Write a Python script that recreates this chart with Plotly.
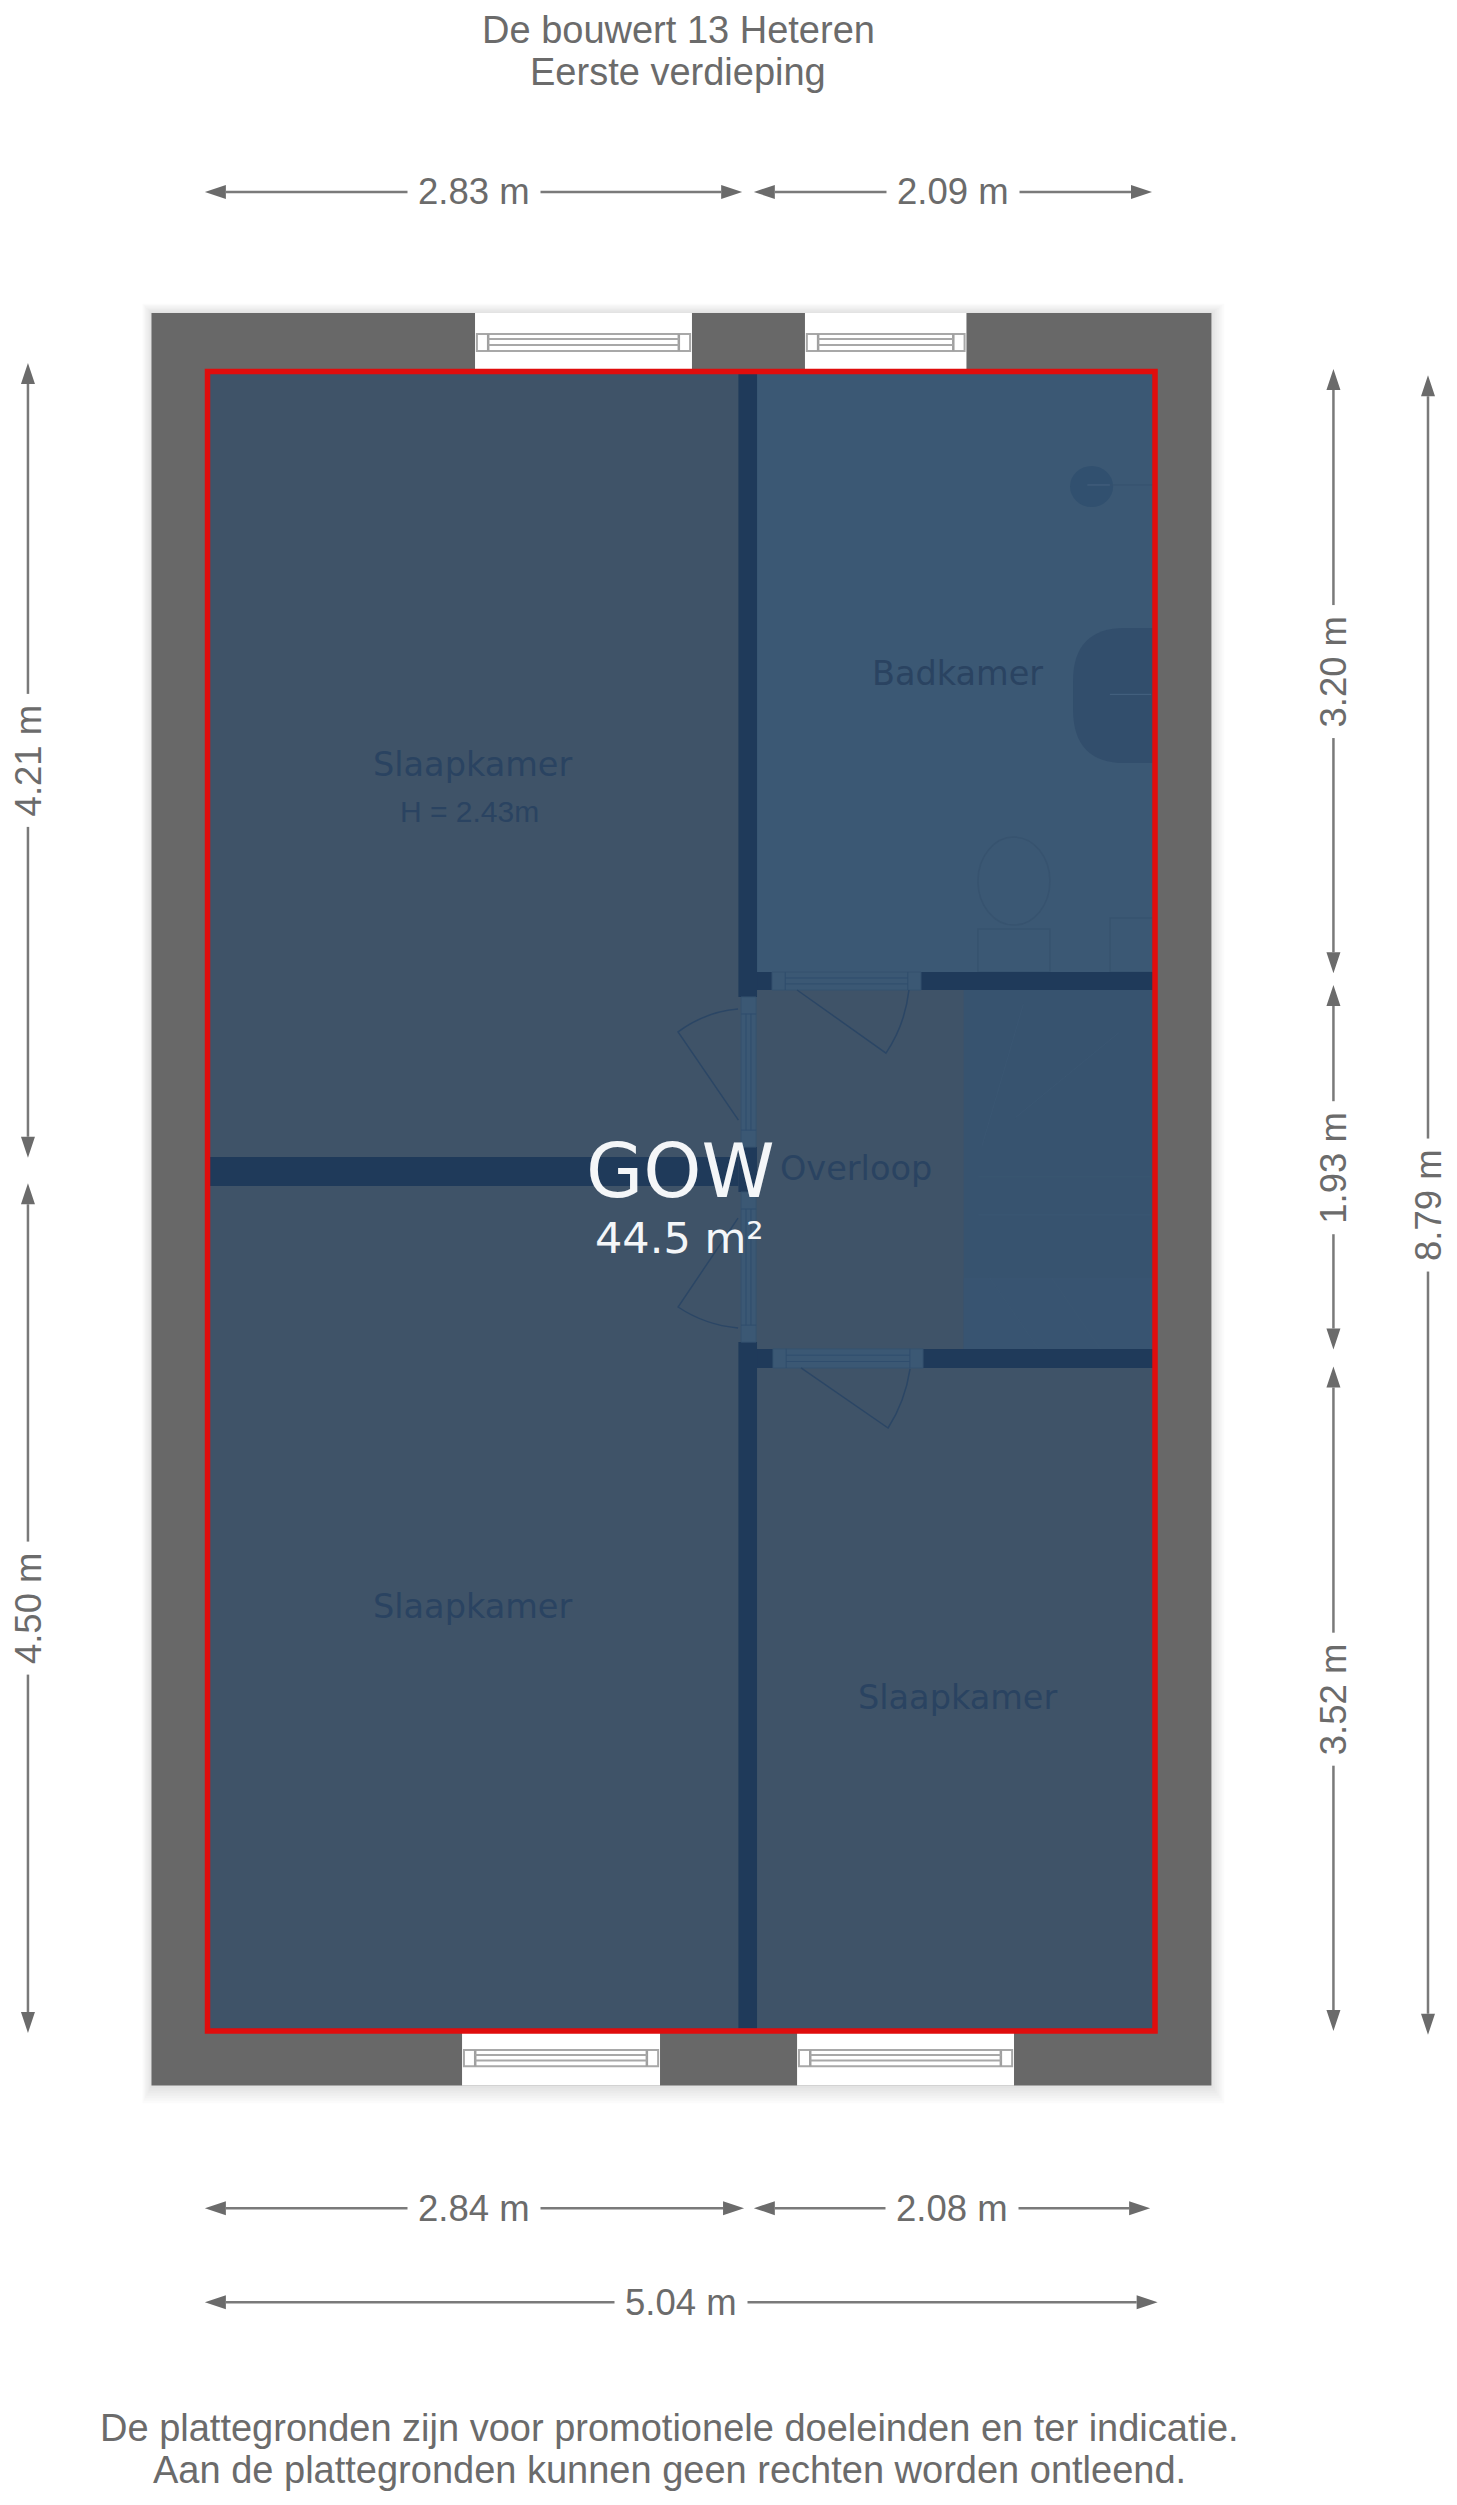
import plotly.graph_objects as go

# dimensions printed on the plan, in metres
top_dims = [2.83, 2.09]
bottom_dims = [2.84, 2.08]
total_width = [5.04]
left_dims = [4.21, 4.50]
right_dims = [3.20, 1.93, 3.52]
total_depth = [8.79]

title_lines = ["De bouwert 13 Heteren", "Eerste verdieping"]
footer_lines = ["De plattegronden zijn voor promotionele doeleinden en ter indicatie.",
                "Aan de plattegronden kunnen geen rechten worden ontleend."]
room_names = ["Slaapkamer", "Slaapkamer", "Slaapkamer", "Badkamer", "Overloop"]
room_height_label = "H = 2.43m"
area_name = "GOW"
area_value = "44.5 m²"

# where things sit on the page, plan origin = inside corner top left
room_x = [1.412, 1.412, 3.987, 3.987, 3.449]
room_y = [2.079, 6.543, 7.024, 1.597, 4.219]
top_starts = [0, 2.92]
bottom_starts = [0, 2.92]
left_starts = [-0.045, 4.30]
right_starts = [-0.013, 3.25, 5.27]

WIDTH, HEIGHT = 1457, 2505
SX, SY = 188.0, 188.8
OX, OY = 207.5, 371.5

GREY = "#6b6b6b"
ROOM = "#3f5368"
BATH = "#3b5874"
STAIR = "#37536f"
WALL = "#1f3a5a"
FIXTURE = "#324e6c"
DOOR = "#2b4665"
LABEL = "#2a4361"

fig = go.Figure()


def rect(x0, y0, x1, y1, fill, line=None, width=0, **kw):
    fig.add_shape(type="rect", x0=x0, y0=y0, x1=x1, y1=y1, fillcolor=fill,
                  line=dict(color=line or fill, width=width), **kw)


def seg(x0, y0, x1, y1, color, width=1.5):
    fig.add_shape(type="line", x0=x0, y0=y0, x1=x1, y1=y1, line=dict(color=color, width=width))


def path(d, line=DOOR, fill=None, width=1.5):
    fig.add_shape(type="path", path=d, fillcolor=fill, line=dict(color=line, width=width))


def text(x, y, s, size, color=GREY, family="Liberation Sans", **kw):
    fig.add_annotation(x=x, y=y, text=s, showarrow=False, xanchor="center", yanchor="middle",
                       font=dict(family=family, size=size, color=color), **kw)


# soft shadow round the block
for i in range(1, 8):
    p = 0.007 * i
    rect(-0.298 - p, -0.310 - p, 5.340 + p * 1.4, 9.079 + p * 1.9, "rgba(0,0,0,0.014)")

rect(-0.298, -0.310, 5.340, 9.079, "#686868")


def window_h(x0, x1, y_out0, y_out1, y0, y1):
    rect(x0, y_out0, x1, y_out1, "white")
    rect(x0 + 0.01, y0, x1 - 0.01, y1, "white", "#a8a8a8", 2)
    seg(x0 + 0.07, y0, x0 + 0.07, y1, "#a0a0a0", 2.5)
    seg(x1 - 0.07, y0, x1 - 0.07, y1, "#a0a0a0", 2.5)
    for f in (0.3, 0.65):
        seg(x0 + 0.07, y0 + (y1 - y0) * f, x1 - 0.07, y0 + (y1 - y0) * f, "#a8a8a8", 2)


window_h(1.423, 2.577, -0.310, 0, -0.199, -0.109)
window_h(3.178, 4.037, -0.310, 0, -0.199, -0.109)
window_h(1.354, 2.407, 8.79, 9.079, 8.891, 8.976)
window_h(3.136, 4.290, 8.79, 9.079, 8.891, 8.976)

# floors
rect(0, 0, 5.04, 8.79, ROOM)
rect(2.923, 0.013, 5.029, 3.181, BATH)
rect(4.022, 3.276, 5.029, 5.177, STAIR)
rect(4.022, 4.801, 5.029, 5.177, "#385471")

# faint stair treads
for d in ["M 4.16 4.80 L 4.42 5.177", "M 4.49 4.80 L 4.75 5.177", "M 4.10 4.266 L 5.02 4.266",
          "M 4.10 4.467 L 5.02 4.467", "M 4.12 4.10 L 4.34 3.35", "M 4.30 3.95 L 4.85 3.50"]:
    path(d, line="#3a5672", width=1)

# bathroom fixtures
fig.add_shape(type="circle", x0=4.588, y0=0.500, x1=4.817, y1=0.718, fillcolor="#31506f", line_width=0)
seg(4.80, 0.601, 5.029, 0.601, "#35526f", 1)
seg(4.68, 0.601, 4.80, 0.601, "#466381", 1)
path("M 5.029 1.359 L 4.88 1.359 Q 4.604 1.359 4.604 1.64 L 4.604 1.79 Q 4.604 2.074 4.88 2.074 L 5.029 2.074 Z",
     line="#324e6c", fill=FIXTURE, width=0)
seg(4.80, 1.71, 5.02, 1.71, "#466381", 1)
fig.add_shape(type="circle", x0=4.098, y0=2.466, x1=4.481, y1=2.932, line=dict(color="#37536f", width=1.5))
rect(4.098, 2.953, 4.481, 3.181, BATH, "#37536f", 1.5)
rect(4.801, 2.895, 5.029, 3.181, BATH, "#37536f", 1.5)

# inner walls
rect(2.824, 0.013, 2.923, 3.313, WALL)
rect(2.824, 4.108, 2.923, 4.346, WALL)
rect(2.824, 5.141, 2.923, 8.777, WALL)
rect(2.923, 3.181, 5.029, 3.276, WALL)
rect(2.923, 5.177, 5.029, 5.278, WALL)
rect(0.013, 4.161, 2.824, 4.314, WALL)


def door_h(x0, x1, y0, y1):
    rect(x0, y0, x1, y1, BATH, "#35526f", 1)
    seg(x0 + 0.07, y0, x0 + 0.07, y1, "#2f4d6d", 1)
    seg(x1 - 0.07, y0, x1 - 0.07, y1, "#2f4d6d", 1)
    for f in (0.33, 0.66):
        seg(x0 + 0.07, y0 + (y1 - y0) * f, x1 - 0.07, y0 + (y1 - y0) * f, "#2f4d6d", 1)


def door_v(x0, x1, y0, y1):
    rect(x0, y0, x1, y1, BATH, "#35526f", 1)
    seg(x0, y0 + 0.09, x1, y0 + 0.09, "#2f4d6d", 1)
    seg(x0, y1 - 0.09, x1, y1 - 0.09, "#2f4d6d", 1)
    for f in (0.33, 0.66):
        seg(x0 + (x1 - x0) * f, y0 + 0.09, x0 + (x1 - x0) * f, y1 - 0.09, "#2f4d6d", 1)


door_h(3.003, 3.795, 3.181, 3.276)
door_h(3.008, 3.806, 5.177, 5.278)
door_v(2.838, 2.918, 3.313, 4.108)
door_v(2.838, 2.918, 4.346, 5.141)

# door swings
path("M 3.136 3.276 L 3.609 3.610 Q 3.710 3.461 3.731 3.276")
path("M 3.157 5.278 L 3.620 5.596 Q 3.710 5.458 3.737 5.283")
path("M 2.824 3.965 L 2.503 3.498 Q 2.646 3.392 2.822 3.377")
path("M 2.822 4.484 L 2.503 4.955 Q 2.646 5.050 2.822 5.066")

# red outline of the measured area
rect(0, 0, 5.04, 8.79, "rgba(0,0,0,0)", "#e00d0d", 5.5)


def dim_arrow(start, length, fixed, horizontal):
    head_l_v, head_w_v = 21 / SY, 7 / SX
    end = start + length
    if horizontal:
        # tips stick out a little past the measured span
        start_t, end_t = start - 0.014, end + 0.014
        head_l = 21 / SX
        xs, ys = [start_t + head_l, end_t - head_l], [fixed, fixed]
        hx = [start_t, start_t + head_l, start_t + head_l, start_t, None,
              end_t, end_t - head_l, end_t - head_l, end_t]
        w = 7 / SY
        hy = [fixed, fixed - w, fixed + w, fixed, None, fixed, fixed - w, fixed + w, fixed]
    else:
        xs, ys = [fixed, fixed], [start + head_l_v, end - head_l_v]
        hy = [start, start + head_l_v, start + head_l_v, start, None, end, end - head_l_v, end - head_l_v, end]
        hx = [fixed, fixed - head_w_v, fixed + head_w_v, fixed, None, fixed, fixed - head_w_v, fixed + head_w_v, fixed]
    fig.add_trace(go.Scatter(x=xs, y=ys, mode="lines", line=dict(color="#7a7a7a", width=2.5)))
    fig.add_trace(go.Scatter(x=hx, y=hy, mode="lines", fill="toself", fillcolor=GREY,
                             line=dict(color=GREY, width=0)))
    label = f"{length:.2f} m"
    if horizontal:
        text(start + length / 2, fixed, label, 36.5, bgcolor="white", borderpad=10)
    else:
        text(fixed, start + length / 2, label, 36.5, textangle=-90, bgcolor="white", borderpad=10)


for v, s in zip(top_dims, top_starts):
    dim_arrow(s, v, -0.951, True)
for v, s in zip(bottom_dims, bottom_starts):
    dim_arrow(s, v, 9.728, True)
dim_arrow(0, total_width[0], 10.226, True)
for v, s in zip(left_dims, left_starts):
    dim_arrow(s, v, -0.955, False)
for v, s in zip(right_dims, right_starts):
    dim_arrow(s, v, 5.989, False)
dim_arrow(0.02, total_depth[0], 6.492, False)

# room labels
for name, x, y in zip(room_names, room_x, room_y):
    text(x, y, name, 33.5, color=LABEL, family="DejaVu Sans")
text(1.396, 2.333, room_height_label, 30, color=LABEL)

text(2.516, 4.235, area_name, 74, color="#f4f6f8", family="DejaVu Sans")
text(2.513, 4.590, area_value, 43, color="#f4f6f8", family="DejaVu Sans")

for line, y in zip(title_lines, [-1.809, -1.587]):
    text(2.503, y, line, 38)
for line, y in zip(footer_lines, [10.890, 11.115]):
    text(2.460, y, line, 38)

fig.update_layout(
    width=WIDTH, height=HEIGHT,
    margin=dict(l=0, r=0, t=0, b=0),
    paper_bgcolor="white", plot_bgcolor="white",
    showlegend=False, hovermode=False,
    xaxis=dict(visible=False, range=[-OX / SX, (WIDTH - OX) / SX], fixedrange=True),
    yaxis=dict(visible=False, range=[(HEIGHT - OY) / SY, -OY / SY], fixedrange=True),
)

fig.write_html("out.html", config={"displayModeBar": False},
               post_script="document.body.style.margin='0';")
